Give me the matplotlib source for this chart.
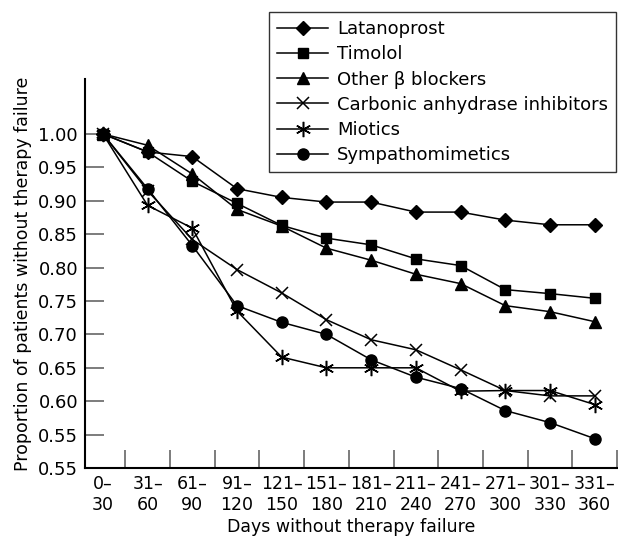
import numpy as np
import matplotlib.pyplot as plt

periods = ['0–\n30', '31–\n60', '61–\n90', '91–\n120', '121–\n150', '151–\n180',
           '181–\n210', '211–\n240', '241–\n270', '271–\n300', '301–\n330', '331–\n360']

latanoprost = [1.000, 0.973, 0.966, 0.918, 0.905, 0.898, 0.898, 0.883, 0.883, 0.871, 0.864, 0.864]
timolol = [1.000, 0.973, 0.929, 0.896, 0.863, 0.844, 0.834, 0.813, 0.803, 0.767, 0.761, 0.754]
other_beta = [1.000, 0.983, 0.940, 0.887, 0.862, 0.829, 0.811, 0.790, 0.776, 0.743, 0.734, 0.719]
carbonic = [1.000, 0.915, 0.842, 0.797, 0.762, 0.722, 0.692, 0.677, 0.647, 0.616, 0.608, 0.608]
miotics = [1.000, 0.893, 0.859, 0.735, 0.666, 0.650, 0.650, 0.650, 0.615, 0.616, 0.616, 0.595]
sympatho = [1.000, 0.918, 0.833, 0.743, 0.718, 0.700, 0.662, 0.636, 0.619, 0.586, 0.568, 0.544]

x = np.arange(len(periods))

fig = plt.figure(figsize=(6.18, 5.38), dpi=100)
ax = fig.add_axes([0.1375, 0.130, 0.861, 0.723])

kw = dict(color='black', lw=1.1, mfc='black', mec='black')
ax.plot(x, latanoprost, marker='D', ms=7, label='Latanoprost', **kw)
ax.plot(x, timolol, marker='s', ms=7, label='Timolol', **kw)
ax.plot(x, other_beta, marker='^', ms=8, label='Other β blockers', **kw)
ax.plot(x, carbonic, marker='x', ms=9, mew=1.1, label='Carbonic anhydrase inhibitors', **kw)
ax.plot(x, miotics, marker=(6, 2, 0), ms=11, mew=1.1, label='Miotics', **kw)
ax.plot(x, sympatho, marker='o', ms=8, label='Sympathomimetics', **kw)

ax.set_xlim(-0.4, 11.5)
ax.set_ylim(0.50, 1.082)

# broken axis: bottom edge is labelled 0.55 again
yt = [0.50, 0.55, 0.60, 0.65, 0.70, 0.75, 0.80, 0.85, 0.90, 0.95, 1.00]
ax.set_yticks(yt)
ax.set_yticklabels(['0.55'] + ['%.2f' % v for v in yt[1:]])
ax.tick_params(axis='y', direction='in', length=14, width=1.2, color='#666666',
               labelsize=13, pad=5)

ax.set_xticks(x + 0.5)
ax.set_xticklabels([])
ax.tick_params(axis='x', which='major', direction='in', length=13, width=1.2, color='#666666')
ax.set_xticks(x, minor=True)
ax.set_xticklabels(periods, minor=True)
ax.tick_params(axis='x', which='minor', length=0, labelsize=12.5, pad=5)

ax.spines['top'].set_visible(False)
ax.spines['right'].set_visible(False)
ax.spines['left'].set_linewidth(1.5)
ax.spines['bottom'].set_linewidth(1.5)

ax.set_ylabel('Proportion of patients without therapy failure', fontsize=12.5, labelpad=4)
ax.set_xlabel('Days without therapy failure', fontsize=12.5, labelpad=3)

leg = fig.legend(loc='upper right', bbox_to_anchor=(0.9968, 0.9777), borderaxespad=0,
                 fontsize=13, frameon=True, fancybox=False, handlelength=2.8,
                 borderpad=0.45, labelspacing=0.4, handletextpad=0.5)
leg.get_frame().set_edgecolor('black')
leg.get_frame().set_linewidth(1.0)

fig.savefig('out.png', dpi=100)
